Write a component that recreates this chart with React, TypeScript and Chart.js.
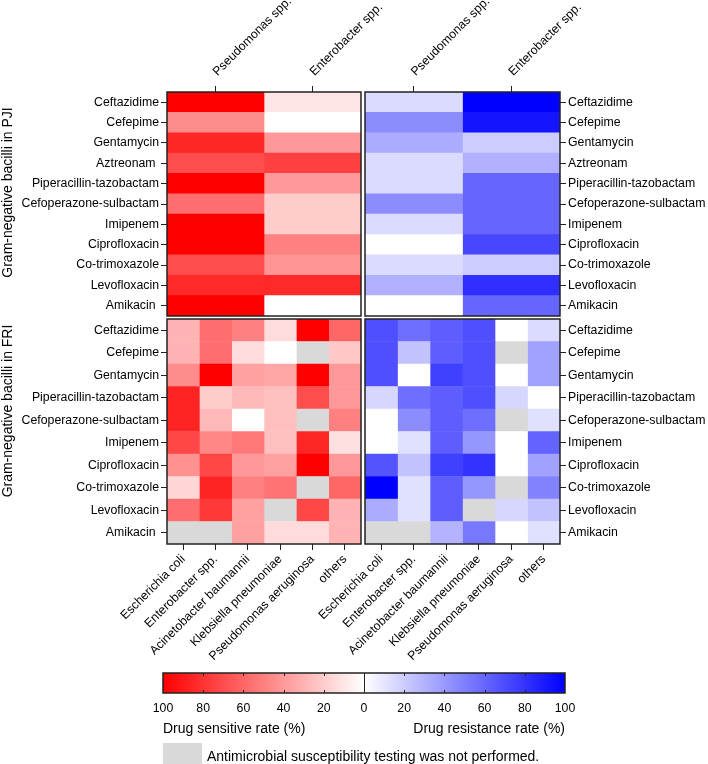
import React, { useEffect, useRef } from "react";
import { Chart, registerables } from "chart.js";

Chart.register(...registerables);

const FONT = '"Liberation Sans", Arial, Helvetica, sans-serif';
const W = 708;
const H = 764;
const NA_COLOR = "#d9d9d9";

// ---------- categories ----------
const pjiDrugs = [
  "Ceftazidime", "Cefepime", "Gentamycin", "Aztreonam ", "Piperacillin-tazobactam",
  "Cefoperazone-sulbactam", "Imipenem", "Ciprofloxacin", "Co-trimoxazole", "Levofloxacin", "Amikacin ",
];
const friDrugs = [
  "Ceftazidime", "Cefepime", "Gentamycin", "Piperacillin-tazobactam", "Cefoperazone-sulbactam",
  "Imipenem", "Ciprofloxacin", "Co-trimoxazole", "Levofloxacin", "Amikacin ",
];
const pjiOrganisms = ["Pseudomonas spp.", "Enterobacter spp."];
const friOrganisms = [
  "Escherichia coli", "Enterobacter spp.", "Acinetobacter baumannii",
  "Klebsiella pneumoniae", "Pseudomonas aeruginosa", "others",
];

// ---------- PJI values (%), one array per organism, rows in pjiDrugs order ----------
const pjiSensPseudomonas = [100, 45, 85, 70, 100, 57, 100, 100, 70, 84, 100];
const pjiSensEnterobacter = [10, 0, 40, 75, 40, 20, 20, 50, 42, 84, 0];
const pjiResPseudomonas = [14, 45, 33, 14, 14, 45, 14, 0, 14, 31, 0];
const pjiResEnterobacter = [100, 92, 20, 31, 60, 60, 60, 72, 20, 82, 60];

// ---------- FRI values (%), null = not performed ----------
const friSensEcoli = [30, 30, 45, 86, 86, 72, 43, 16, 57, null];
const friSensEnterobacter = [57, 57, 100, 20, 28, 47, 72, 86, 78, null];
const friSensAcinetobacter = [50, 14, 37, 28, 0, 53, 40, 50, 37, 37];
const friSensKlebsiella = [14, 0, 35, 25, 25, 25, 37, 55, null, 14];
const friSensPseudomonas = [100, null, 100, 70, null, 85, 100, null, 72, 14];
const friSensOthers = [60, 22, 40, 40, 50, 12, 40, 60, 30, 30];

const friResEcoli = [69, 69, 69, 16, 0, 0, 67, 100, 33, null];
const friResEnterobacter = [57, 24, 0, 57, 45, 12, 24, 12, 12, null];
const friResAcinetobacter = [63, 63, 75, 63, 63, 63, 75, 63, 63, 30];
const friResKlebsiella = [69, 69, 69, 69, 57, 41, 80, 41, null, 53];
const friResPseudomonas = [0, null, 0, 16, null, 0, 0, null, 16, 0];
const friResOthers = [14, 37, 37, 0, 12, 61, 37, 49, 24, 12];

// ---------- colour bar ticks ----------
const colorbarTicks = [-100, -80, -60, -40, -20, 0, 20, 40, 60, 80, 100];

type Area = { left: number; top: number; right: number; bottom: number };

function cellColor(v: number | null, palette: "red" | "blue") {
  if (v === null || v === undefined) return NA_COLOR;
  const c = Math.round(255 * (1 - v / 100));
  return palette === "red" ? `rgb(255,${c},${c})` : `rgb(${c},${c},255)`;
}

const framePlugin = {
  id: "frame",
  afterDatasetsDraw(chart: any) {
    const { ctx, chartArea: a } = chart;
    ctx.save();
    ctx.strokeStyle = "#222";
    ctx.lineWidth = 1.5;
    ctx.strokeRect(a.left, a.top, a.right - a.left, a.bottom - a.top);
    ctx.restore();
  },
};

function sideTitlePlugin(text: string, y: number) {
  return {
    id: "sideTitle",
    afterDraw(chart: any) {
      const ctx = chart.ctx;
      ctx.save();
      ctx.translate(8.5, y);
      ctx.rotate(-Math.PI / 2);
      ctx.font = `14px ${FONT}`;
      ctx.fillStyle = "#000";
      ctx.textAlign = "center";
      ctx.textBaseline = "middle";
      ctx.fillText(text, 0, 0);
      ctx.restore();
    },
  };
}

function heatConfig(opts: {
  drugs: string[];
  organisms: string[];
  columns: (number | null)[][];
  palette: "red" | "blue";
  yPos: "left" | "right";
  xPos: "top" | "bottom";
  area: Area;
  title?: { text: string; y: number };
}): any {
  const { drugs, organisms, columns, palette, yPos, xPos, area } = opts;
  const datasets = columns.map((col, j) => ({
    label: organisms[j],
    data: col.map(() => 1),
    backgroundColor: col.map((v) => cellColor(v, palette)),
    borderWidth: 0,
    barPercentage: 1,
    categoryPercentage: 1,
  }));
  const yAxisWidth = yPos === "left" ? area.left : W - area.right;
  const xAxisHeight = xPos === "top" ? area.top : H - area.bottom;
  const padding = {
    left: yPos === "left" ? 0 : area.left,
    right: yPos === "right" ? 0 : W - area.right,
    top: xPos === "top" ? 0 : area.top,
    bottom: xPos === "bottom" ? 0 : H - area.bottom,
  };
  const font = { family: FONT, size: 12.3 };
  const plugins: any[] = [framePlugin];
  if (opts.title) plugins.push(sideTitlePlugin(opts.title.text, opts.title.y));
  const isTop = xPos === "top";
  return {
    type: "bar",
    data: { labels: drugs, datasets },
    plugins,
    options: {
      indexAxis: "y",
      animation: false,
      responsive: false,
      events: [],
      layout: { padding },
      plugins: { legend: { display: false }, tooltip: { enabled: false } },
      scales: {
        x: {
          type: "linear",
          position: xPos,
          stacked: true,
          min: 0,
          max: organisms.length,
          afterBuildTicks: (s: any) => {
            s.ticks = organisms.map((_, i) => ({ value: i + 0.5 }));
          },
          ticks: {
            callback: (_v: any, i: number) => organisms[i],
            autoSkip: false,
            maxRotation: 45,
            minRotation: 45,
            padding: isTop ? 7 : 2,
            labelOffset: isTop ? 10 : 0,
            font,
            color: "#000",
          },
          grid: { drawOnChartArea: false, drawTicks: true, tickLength: 6, color: "#222", tickColor: "#222", lineWidth: 1 },
          border: { display: false },
          afterFit: (s: any) => {
            s.height = xAxisHeight;
          },
        },
        y: {
          type: "category",
          position: yPos,
          stacked: true,
          ticks: { autoSkip: false, padding: 2, font, color: "#000" },
          grid: { offset: false, drawOnChartArea: false, drawTicks: true, tickLength: 6, color: "#222", tickColor: "#222", lineWidth: 1 },
          border: { display: false },
          afterFit: (s: any) => {
            s.width = yAxisWidth;
          },
        },
      },
    },
  };
}

function colorbarConfig(): any {
  const area: Area = { left: 163, top: 673, right: 565, bottom: 693 };
  const barPlugin = {
    id: "colorbar",
    beforeDatasetsDraw(chart: any) {
      const { ctx, chartArea: a } = chart;
      const xs = chart.scales.x;
      const x0 = xs.getPixelForValue(-100);
      const x1 = xs.getPixelForValue(100);
      const g = ctx.createLinearGradient(x0, 0, x1, 0);
      g.addColorStop(0, "rgb(255,0,0)");
      g.addColorStop(0.5, "rgb(255,255,255)");
      g.addColorStop(1, "rgb(0,0,255)");
      ctx.save();
      ctx.fillStyle = g;
      ctx.fillRect(a.left, a.top, a.right - a.left, a.bottom - a.top);
      ctx.strokeStyle = "#222";
      ctx.lineWidth = 1;
      colorbarTicks.forEach((t) => {
        if (Math.abs(t) === 100) return;
        const px = Math.round(xs.getPixelForValue(t)) + 0.5;
        ctx.beginPath();
        if (t === 0) {
          ctx.moveTo(px, a.top);
          ctx.lineTo(px, a.bottom);
        } else {
          ctx.moveTo(px, a.top);
          ctx.lineTo(px, a.top + 3);
          ctx.moveTo(px, a.bottom);
          ctx.lineTo(px, a.bottom - 3);
        }
        ctx.stroke();
      });
      ctx.lineWidth = 1.5;
      ctx.strokeRect(a.left, a.top, a.right - a.left, a.bottom - a.top);
      // titles & legend
      ctx.fillStyle = "#000";
      ctx.font = `14px ${FONT}`;
      ctx.textBaseline = "middle";
      ctx.textAlign = "left";
      ctx.fillText("Drug sensitive rate (%)", a.left, 729);
      ctx.textAlign = "right";
      ctx.fillText("Drug resistance rate (%)", a.right, 729);
      ctx.fillStyle = NA_COLOR;
      ctx.fillRect(a.left, 743, 39, 21);
      ctx.fillStyle = "#000";
      ctx.textAlign = "left";
      ctx.fillText("Antimicrobial susceptibility testing was not performed.", 207, 757);
      ctx.restore();
    },
  };
  return {
    type: "scatter",
    data: { datasets: [{ data: [] }] },
    plugins: [barPlugin],
    options: {
      animation: false,
      responsive: false,
      events: [],
      layout: { padding: { left: area.left, right: W - area.right, top: area.top, bottom: 0 } },
      plugins: { legend: { display: false }, tooltip: { enabled: false } },
      scales: {
        x: {
          type: "linear",
          position: "bottom",
          min: -100,
          max: 100,
          afterBuildTicks: (s: any) => {
            s.ticks = colorbarTicks.map((v) => ({ value: v }));
          },
          ticks: {
            callback: (v: any) => String(Math.abs(Number(v))),
            autoSkip: false,
            maxRotation: 0,
            minRotation: 0,
            padding: 8,
            font: { family: FONT, size: 12.3 },
            color: "#000",
          },
          grid: { display: true, drawOnChartArea: false, drawTicks: false },
          border: { display: false },
          afterFit: (s: any) => {
            s.height = H - area.bottom;
          },
        },
        y: { display: false, min: 0, max: 1 },
      },
    },
  };
}

function ChartCanvas({ config }: { config: () => any }) {
  const ref = useRef<HTMLCanvasElement | null>(null);
  useEffect(() => {
    if (!ref.current) return;
    const chart = new Chart(ref.current, config());
    return () => chart.destroy();
  }, []);
  return (
    <canvas
      ref={ref}
      width={W}
      height={H}
      style={{ position: "absolute", left: 0, top: 0, width: W, height: H, pointerEvents: "none" }}
    />
  );
}

export default function App() {
  const TL: Area = { left: 167, top: 92, right: 361, bottom: 316 };
  const TR: Area = { left: 365, top: 92, right: 560, bottom: 316 };
  const BL: Area = { left: 167, top: 319, right: 361, bottom: 544 };
  const BR: Area = { left: 365, top: 319, right: 560, bottom: 544 };
  return (
    <div style={{ position: "absolute", left: 0, top: 0, width: W, height: H, background: "#fff" }}>
      <ChartCanvas
        config={() =>
          heatConfig({
            drugs: pjiDrugs,
            organisms: pjiOrganisms,
            columns: [pjiSensPseudomonas, pjiSensEnterobacter],
            palette: "red",
            yPos: "left",
            xPos: "top",
            area: TL,
            title: { text: "Gram-negative bacilli in PJI", y: 192.5 },
          })
        }
      />
      <ChartCanvas
        config={() =>
          heatConfig({
            drugs: pjiDrugs,
            organisms: pjiOrganisms,
            columns: [pjiResPseudomonas, pjiResEnterobacter],
            palette: "blue",
            yPos: "right",
            xPos: "top",
            area: TR,
          })
        }
      />
      <ChartCanvas
        config={() =>
          heatConfig({
            drugs: friDrugs,
            organisms: friOrganisms,
            columns: [friSensEcoli, friSensEnterobacter, friSensAcinetobacter, friSensKlebsiella, friSensPseudomonas, friSensOthers],
            palette: "red",
            yPos: "left",
            xPos: "bottom",
            area: BL,
            title: { text: "Gram-negative bacilli in FRI", y: 411 },
          })
        }
      />
      <ChartCanvas
        config={() =>
          heatConfig({
            drugs: friDrugs,
            organisms: friOrganisms,
            columns: [friResEcoli, friResEnterobacter, friResAcinetobacter, friResKlebsiella, friResPseudomonas, friResOthers],
            palette: "blue",
            yPos: "right",
            xPos: "bottom",
            area: BR,
          })
        }
      />
      <ChartCanvas config={colorbarConfig} />
    </div>
  );
}
